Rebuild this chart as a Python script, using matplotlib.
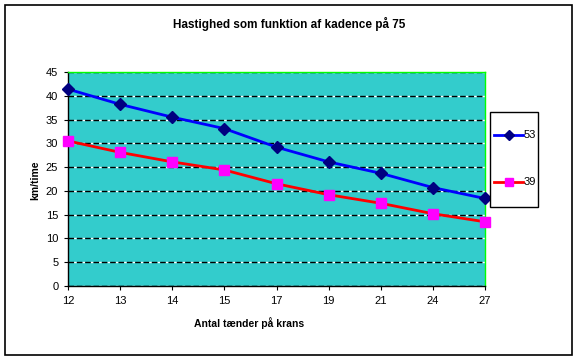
import matplotlib
matplotlib.use("Agg")
import matplotlib.pyplot as plt
from matplotlib.patches import Rectangle
from matplotlib.lines import Line2D

plt.rcParams['font.family'] = ['Liberation Sans', 'DejaVu Sans']

categories = ["12", "13", "14", "15", "17", "19", "21", "24", "27"]
s53 = [41.4, 38.2, 35.5, 33.1, 29.2, 26.1, 23.7, 20.7, 18.4]
s39 = [30.5, 28.1, 26.1, 24.4, 21.5, 19.2, 17.4, 15.2, 13.5]
series_names = ["53", "39"]
yticks = [0, 5, 10, 15, 20, 25, 30, 35, 40, 45]

W, H = 578, 360
fig = plt.figure(figsize=(W / 100, H / 100), dpi=100)
fig.patch.set_facecolor('white')


def fx(px):
    return px / W


def fy(py):
    return 1 - py / H


fig.patches.append(Rectangle((fx(5), fy(355)), 567 / W, 350 / H, transform=fig.transFigure,
                             fill=False, edgecolor='black', linewidth=1.2))

left, right, top, bottom = 68, 485, 72, 286
ax = fig.add_axes([fx(left), fy(bottom), (right - left) / W, (bottom - top) / H])
ax.set_facecolor('#33CCCC')
x = list(range(len(categories)))
style53 = dict(color='#0000FF', linewidth=2, marker='D', markerfacecolor='#000080',
               markeredgecolor='#000080')
style39 = dict(color='#FF0000', linewidth=2, marker='s', markerfacecolor='#FF00FF',
               markeredgecolor='#FF00FF')
ax.plot(x, s53, markersize=6, zorder=3, clip_on=False, **style53)
ax.plot(x, s39, markersize=7, zorder=3, clip_on=False, **style39)
ax.set_xlim(0, len(categories) - 1)
ax.set_ylim(0, 45)
ax.set_xticks(x)
ax.set_xticklabels(categories)
ax.set_yticks(yticks)
ax.yaxis.grid(True, color='black', linestyle=(0, (4, 2)), gapcolor='white', linewidth=1)
ax.set_axisbelow(True)
ax.tick_params(axis='both', labelsize=8, length=3, color='black', direction='out', pad=4)
for s in ['top', 'right']:
    ax.spines[s].set_color('#00FF00')
    ax.spines[s].set_linewidth(1)
for s in ['left', 'bottom']:
    ax.spines[s].set_color('black')
    ax.spines[s].set_linewidth(1)

fig.text(fx(249), fy(323), 'Antal tænder på krans', ha='center', va='center',
         fontsize=7.5, fontweight='bold')
fig.text(fx(35), fy(180), 'km/time', ha='center', va='center', rotation=90,
         fontsize=7.5, fontweight='bold')
fig.text(fx(289), fy(23.5), 'Hastighed som funktion af kadence på 75', ha='center', va='center',
         fontsize=8.5, fontweight='bold')

# legend drawn manually
fig.patches.append(Rectangle((fx(490), fy(207)), 48 / W, 95 / H, transform=fig.transFigure,
                             fill=True, facecolor='white', edgecolor='black', linewidth=1))
for name, style, ms, yy in [(series_names[0], style53, 5, 135), (series_names[1], style39, 6, 182)]:
    ln = Line2D([fx(494), fx(523)], [fy(yy), fy(yy)], transform=fig.transFigure,
                markevery=[1], markersize=ms, **style)
    # marker at centre
    ln.set_data([fx(494), fx(508.5), fx(523)], [fy(yy)] * 3)
    fig.lines.append(ln)
    fig.text(fx(524), fy(yy), name, ha='left', va='center', fontsize=8)

fig.savefig('out.png', dpi=100)
